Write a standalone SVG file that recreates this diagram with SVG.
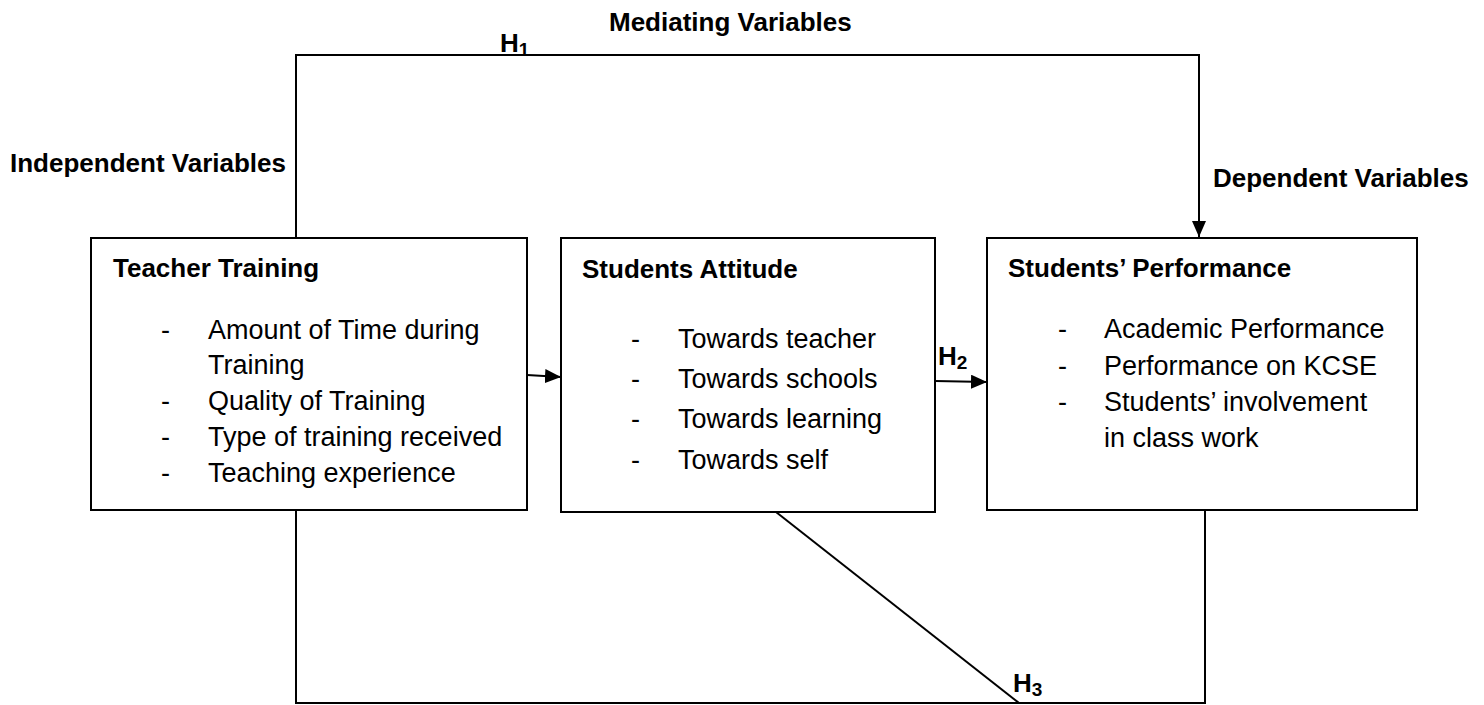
<svg xmlns="http://www.w3.org/2000/svg" width="1484" height="705" viewBox="0 0 1484 705">
  <style>
    .box { fill: #ffffff; stroke: #000000; stroke-width: 2; }
    .wire { fill: none; stroke: #000000; stroke-width: 2; }
    .label { font-family: "Liberation Sans", Arial, sans-serif; font-weight: bold; font-size: 26px; fill: #000000; }
    .item { font-family: "Liberation Sans", Arial, sans-serif; font-size: 27px; fill: #000000; }
    .sub { font-size: 19px; }
  </style>
  <defs>
    <marker id="arrow" markerWidth="16" markerHeight="14" refX="16" refY="7" orient="auto" markerUnits="userSpaceOnUse">
      <path d="M0,0 L16,7 L0,14 Z" fill="#000000"/>
    </marker>
  </defs>

  <rect width="1484" height="705" fill="#ffffff"/>

  <!-- section headings -->
  <text class="label" x="10" y="172">Independent Variables</text>
  <text class="label" x="609" y="31">Mediating Variables</text>
  <text class="label" x="1213" y="187">Dependent Variables</text>

  <!-- connectors -->
  <g id="connectors">
    <!-- H1: Teacher Training over the top to Students' Performance -->
    <polyline class="wire" points="296,238 296,55 1199,55 1199,237" marker-end="url(#arrow)"/>
    <!-- Teacher Training to Students Attitude -->
    <line class="wire" x1="527" y1="375" x2="561" y2="377" marker-end="url(#arrow)"/>
    <!-- H2: Students Attitude to Students' Performance -->
    <line class="wire" x1="935" y1="381" x2="987" y2="382" marker-end="url(#arrow)"/>
    <!-- H3: loop along the bottom -->
    <polyline class="wire" points="296,510 296,703 1205,703 1205,510"/>
    <line class="wire" x1="776" y1="512" x2="1019" y2="703"/>
    <text class="label" x="500" y="52">H<tspan class="sub" dy="4">1</tspan></text>
    <text class="label" x="938" y="365">H<tspan class="sub" dy="4">2</tspan></text>
    <text class="label" x="1013" y="692">H<tspan class="sub" dy="4">3</tspan></text>
  </g>

  <!-- Teacher Training -->
  <g id="teacher-training">
    <rect class="box" x="91" y="238" width="436" height="272"/>
    <text class="label" x="113" y="277">Teacher Training</text>
    <text class="item" x="161" y="339">-</text>
    <text class="item" x="208" y="339">Amount of Time during</text>
    <text class="item" x="208" y="374">Training</text>
    <text class="item" x="161" y="410">-</text>
    <text class="item" x="208" y="410">Quality of Training</text>
    <text class="item" x="161" y="446">-</text>
    <text class="item" x="208" y="446">Type of training received</text>
    <text class="item" x="161" y="482">-</text>
    <text class="item" x="208" y="482">Teaching experience</text>
  </g>

  <!-- Students Attitude -->
  <g id="students-attitude">
    <rect class="box" x="561" y="238" width="374" height="274"/>
    <text class="label" x="582" y="278">Students Attitude</text>
    <text class="item" x="631" y="348">-</text>
    <text class="item" x="678" y="348">Towards teacher</text>
    <text class="item" x="631" y="388">-</text>
    <text class="item" x="678" y="388">Towards schools</text>
    <text class="item" x="631" y="428">-</text>
    <text class="item" x="678" y="428">Towards learning</text>
    <text class="item" x="631" y="469">-</text>
    <text class="item" x="678" y="469">Towards self</text>
  </g>

  <!-- Students' Performance -->
  <g id="students-performance">
    <rect class="box" x="987" y="238" width="430" height="272"/>
    <text class="label" x="1008" y="277">Students’ Performance</text>
    <text class="item" x="1058" y="338">-</text>
    <text class="item" x="1104" y="338">Academic Performance</text>
    <text class="item" x="1058" y="375">-</text>
    <text class="item" x="1104" y="375">Performance on KCSE</text>
    <text class="item" x="1058" y="411">-</text>
    <text class="item" x="1104" y="411">Students’ involvement</text>
    <text class="item" x="1104" y="447">in class work</text>
  </g>
</svg>
